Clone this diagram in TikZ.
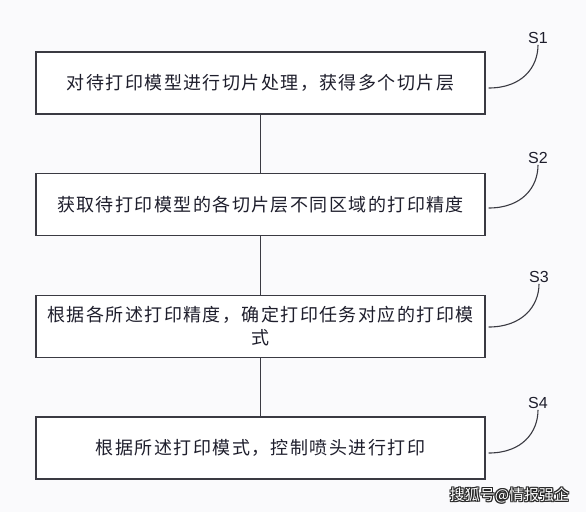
\documentclass[tikz,border=0pt]{standalone}
\usepackage{fontspec}
\newfontfamily\cjk[LetterSpace=8]{Noto Sans CJK SC}
\newfontfamily\wmfont{Noto Sans CJK SC}
\newfontfamily\lblfont{Liberation Sans}
\definecolor{linec}{HTML}{3A3A42}
\definecolor{textc}{HTML}{1E1E2C}
\definecolor{bgc}{HTML}{FAFAFC}
\tikzset{
  stepbox/.style={draw=linec, line width=1.2pt, fill=white, minimum width=449pt, minimum height=62pt, inner sep=0pt, align=center, text=textc, font=\cjk\fontsize{18}{23}\selectfont},
  steplabel/.style={text=textc, inner sep=1pt, font=\lblfont\fontsize{16}{18}\selectfont},
  flow/.style={draw=linec, line width=1.1pt},
  leader/.style={draw=linec, line width=1.1pt},
  wm/.style={inner sep=0pt, font=\wmfont\fontsize{15}{16}\selectfont}
}
\begin{document}
\begin{tikzpicture}[x=1pt, y=-1pt]
\fill[bgc] (0,0) rectangle (586,512);
\useasboundingbox (0,0) rectangle (586,512);

\node[stepbox] (b1) at (260.5,83) {对待打印模型进行切片处理，获得多个切片层};
\node[stepbox] (b2) at (260.5,204.5) {获取待打印模型的各切片层不同区域的打印精度};
\node[stepbox] (b3) at (260.5,326.5) {根据各所述打印精度，确定打印任务对应的打印模\\式};
\node[stepbox] (b4) at (260.5,448) {根据所述打印模式，控制喷头进行打印};

\node[steplabel] (s1) at (538,38) {S1};
\node[steplabel] (s2) at (538,158) {S2};
\node[steplabel] (s3) at (539,277) {S3};
\node[steplabel] (s4) at (538,403) {S4};

\draw[flow] (b1.south) -- (b2.north);
\draw[flow] (b2.south) -- (b3.north);
\draw[flow] (b3.south) -- (b4.north);

\draw[leader] ([xshift=3pt,yshift=-5pt]b1.east) .. controls +(34,0) and +(0,22) .. (s1.south);
\draw[leader] ([xshift=3pt,yshift=-3.5pt]b2.east) .. controls +(34,0) and +(0,22) .. (s2.south);
\draw[leader] ([xshift=3pt,yshift=-0.5pt]b3.east) .. controls +(34,0) and +(0,22) .. (s3.south);
\draw[leader] ([xshift=3pt,yshift=-5pt]b4.east) .. controls +(34,0) and +(0,22) .. (s4.south);

\foreach \dx/\dy in {-1/0,1/0,0/-1,0/1,-1/-1,1/1,-1/1,1/-1}{
  \node[wm, text=black!85] at ([xshift=\dx pt,yshift=\dy pt]509.5,495) {搜狐号@情报强企};
}
\node[wm, text=white] (wm) at (509.5,495) {搜狐号@情报强企};
\end{tikzpicture}
\end{document}
